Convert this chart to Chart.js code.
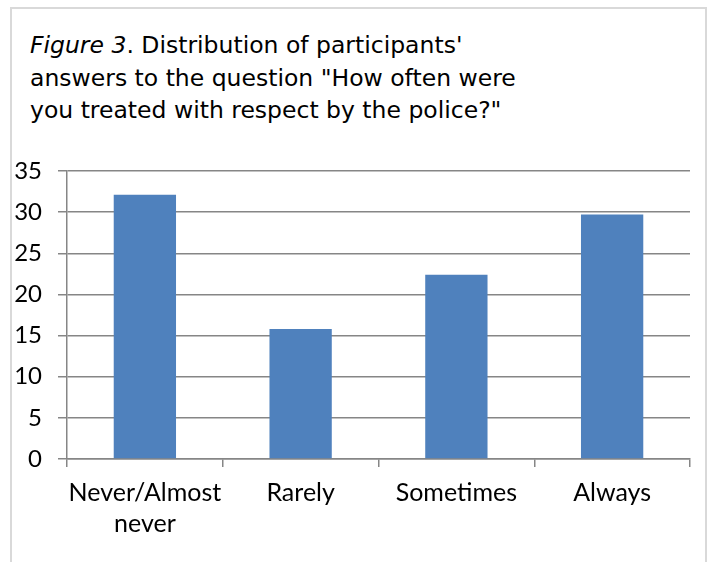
<!DOCTYPE html>
<html>
<head>
<meta charset="utf-8">
<script src="https://cdn.jsdelivr.net/npm/chart.js@4"></script>
<style>
  html, body { margin: 0; padding: 0; background: #fff; }
  #wrap { position: relative; width: 711px; height: 562px; overflow: hidden; }
  #frame {
    position: absolute; left: 10px; top: 7px; width: 697px; height: 600px;
    box-sizing: border-box; border: 2px solid #d9d9d9; border-bottom: none;
  }
  #title {
    position: absolute; left: 30px; top: 29px;
    font-family: "DejaVu Sans", Verdana, sans-serif; font-size: 23.5px;
    line-height: 32.5px; color: #000; white-space: nowrap;
  }
  canvas { position: absolute; left: 0; top: 0; }
</style>
</head>
<body>
<div id="wrap">
  <div id="frame"></div>
  <div id="title"><i>Figure 3</i>. Distribution of participants'<br>answers to the question "How often were<br>you treated with respect by the police?"</div>
  <canvas id="canvas" width="711" height="562"></canvas>
</div>
<script>
// categories (x axis), one line per entry of the inner array
const categories = [['Never/Almost', 'never'], 'Rarely', 'Sometimes', 'Always'];
// share of participants for each answer
const answerValues = [32.1, 15.8, 22.4, 29.7];
// y axis tick values
const yTickValues = [0, 5, 10, 15, 20, 25, 30, 35];

const gridColor = '#868686';
const fontFamily = 'Lato, "Open Sans", sans-serif';

const ctx = document.getElementById('canvas');
new Chart(ctx, {
  type: 'bar',
  data: {
    labels: categories,
    datasets: [{
      data: answerValues,
      backgroundColor: '#4f81bd',
      borderWidth: 0,
      barPercentage: 0.4,
      categoryPercentage: 1.0,
    }],
  },
  options: {
    responsive: false,
    animation: false,
    devicePixelRatio: 1,
    layout: { padding: { top: 171, right: 21, bottom: 0, left: 0 } },
    plugins: {
      legend: { display: false },
      tooltip: { enabled: false },
    },
    scales: {
      x: {
        afterFit: (scale) => { scale.height = 103; },
        grid: {
          offset: true,
          drawOnChartArea: false,
          tickLength: 8,
          color: gridColor,
          lineWidth: 1.5,
        },
        border: { display: true, color: gridColor, width: 1.5 },
        ticks: {
          color: '#000',
          font: { family: fontFamily, size: 25, lineHeight: 1.22 },
          padding: 11,
          maxRotation: 0,
          autoSkip: false,
        },
      },
      y: {
        min: 0,
        max: 35,
        afterFit: (scale) => { scale.width = 67; },
        afterBuildTicks: (scale) => {
          scale.ticks = yTickValues.map(v => ({ value: v }));
        },
        grid: {
          color: gridColor,
          lineWidth: 1.5,
          tickLength: 9,
        },
        border: { display: true, color: gridColor, width: 1.5 },
        ticks: {
          color: '#000',
          font: { family: fontFamily, size: 24 },
          padding: 16,
        },
      },
    },
  },
});
</script>
</body>
</html>
